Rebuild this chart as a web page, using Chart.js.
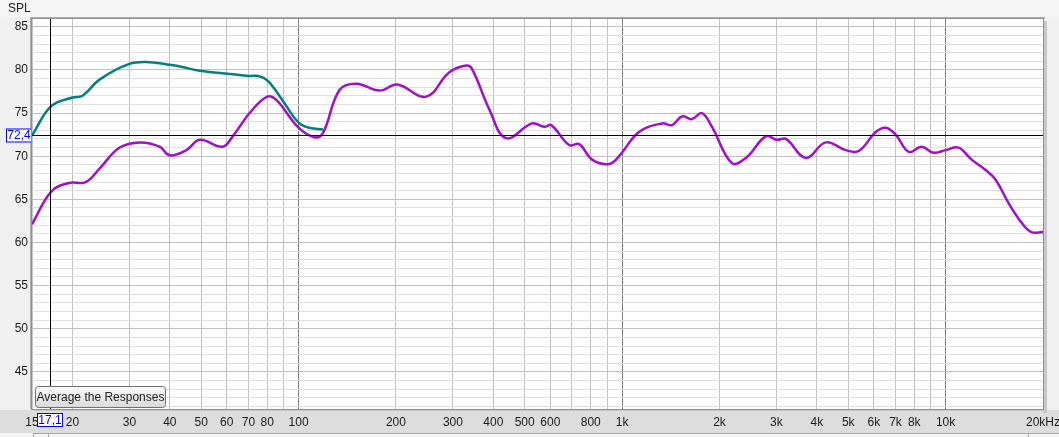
<!DOCTYPE html>
<html lang="en">
<head>
  <meta charset="UTF-8">
  <title>SPL</title>
  <script src="https://cdn.jsdelivr.net/npm/chart.js"></script>
  <style>
    html, body { margin: 0; padding: 0; background: #f0f0f0; }
    canvas { display: block; }
  </style>
</head>
<body>
  <canvas id="spl" width="1059" height="437"></canvas>

  <script>
    // frequency (Hz) / SPL (dB)
    const tealFreq = [15, 17.2, 20, 21.5, 24.3, 30, 34.7, 40, 43, 49.5, 62.6, 70, 75, 80, 85, 91, 100, 108, 119];
    const tealSpl  = [72.4, 75.8, 76.8, 77.0, 78.9, 80.7, 80.9, 80.6, 80.4, 79.9, 79.5, 79.3, 79.3, 78.8, 77.6, 76.0, 73.9, 73.3, 73.1];

    const purpleFreq = [15, 17.2, 19.5, 22, 24.3, 28, 32.3, 37.2, 40, 45, 49.5, 58.2, 62.6, 70.6, 80, 85.5,
      100, 112, 119, 134, 151, 178, 202, 248, 292, 330, 344, 389, 438, 527, 575, 604, 686, 737, 808, 912, 979,
      1128, 1329, 1426, 1531, 1644, 1766, 1896, 2185, 2415, 2780, 3010, 3210, 3700, 4260, 4910, 5390, 6080,
      6530, 7010, 7690, 8430, 9180, 10000, 10970, 12030, 13290, 14260, 15640, 17170, 18420, 20000];
    const purpleSpl = [62.1, 65.9, 66.9, 67.0, 68.6, 71.0, 71.6, 71.1, 70.1, 70.7, 71.9, 71.1, 72.3, 75.0, 76.9, 76.5,
      73.3, 72.2, 72.7, 77.7, 78.4, 77.6, 78.3, 76.9, 79.7, 80.5, 80.1, 75.4, 72.1, 73.8, 73.4, 73.6, 71.3, 71.4, 69.6, 69.1, 70.0,
      72.8, 73.8, 73.6, 74.6, 74.3, 75.0, 73.4, 69.2, 69.8, 72.3, 71.9, 72.0, 69.8, 71.6, 70.7, 70.6, 72.8,
      73.3, 72.5, 70.5, 71.1, 70.4, 70.7, 71.0, 69.6, 68.4, 67.3, 64.6, 62.3, 61.2, 61.2];

    // axis ticks
    const xGridFreqs = [15, 20, 30, 40, 50, 60, 70, 80, 90, 100, 200, 300, 400, 500, 600, 700, 800, 900,
      1000, 2000, 3000, 4000, 5000, 6000, 7000, 8000, 9000, 10000, 20000];
    const xTickLabels = {15: '15', 20: '20', 30: '30', 40: '40', 50: '50', 60: '60', 70: '70', 80: '80',
      100: '100', 200: '200', 300: '300', 400: '400', 500: '500', 600: '600', 800: '800',
      1000: '1k', 2000: '2k', 3000: '3k', 4000: '4k', 5000: '5k', 6000: '6k', 7000: '7k', 8000: '8k',
      10000: '10k', 20000: '20kHz'};
    const yTickLabels = [45, 50, 55, 60, 65, 70, 75, 80, 85];

    // cursor position
    const cursorFreq = 17.1;
    const cursorSpl = 72.4;

    const font = 'Liberation Sans, Arial, sans-serif';

    function toPoints(xs, ys) {
      return xs.map((x, i) => ({ x: x, y: ys[i] }));
    }

    // window chrome behind the plot
    const backdrop = {
      id: 'backdrop',
      beforeDraw(chart) {
        const c = chart.ctx;
        const a = chart.chartArea;
        c.save();
        c.fillStyle = '#f0f0f0';
        c.fillRect(0, 0, chart.width, chart.height);
        c.fillStyle = '#f6f6f6';
        c.fillRect(0, 0, chart.width, a.top - 2);
        // x label strip
        c.fillStyle = '#dddddd';
        c.fillRect(0, a.bottom + 1, chart.width, 23);
        c.fillStyle = '#f4f4f4';
        c.fillRect(0, a.bottom + 24, chart.width, chart.height - a.bottom - 24);
        c.strokeStyle = '#a8a8a8';
        c.lineWidth = 1;
        c.beginPath();
        c.moveTo(33, a.bottom + 24.5); c.lineTo(chart.width, a.bottom + 24.5);
        c.moveTo(33.5, a.bottom + 24); c.lineTo(33.5, chart.height);
        c.moveTo(48.5, a.bottom + 24); c.lineTo(48.5, chart.height);
        c.moveTo(1028.5, a.bottom + 24); c.lineTo(1028.5, chart.height);
        c.stroke();
        // plot shadow
        c.fillStyle = '#c8c8c8';
        c.fillRect(a.right, a.top + 2, 4, a.bottom - a.top + 2);
        c.fillRect(a.left + 2, a.bottom, a.right - a.left + 2, 2);
        c.fillStyle = '#b0b0b0';
        c.fillRect(a.left - 2, a.top - 2, a.right - a.left + 4, 2);
        c.fillRect(a.left - 2, a.top - 2, 2, a.bottom - a.top + 2);
        c.fillStyle = '#ffffff';
        c.fillRect(a.left, a.top, a.right - a.left, a.bottom - a.top);
        c.restore();
      }
    };

    // cursor lines, value boxes, button and axis title
    const overlay = {
      id: 'overlay',
      afterDraw(chart) {
        const c = chart.ctx;
        const a = chart.chartArea;
        const xs = chart.scales.x;
        const ys = chart.scales.y;
        const cx = Math.round(xs.getPixelForValue(cursorFreq)) + 0.5;
        const cy = Math.round(ys.getPixelForValue(cursorSpl)) + 0.5;
        c.save();
        c.strokeStyle = '#000000';
        c.lineWidth = 1;
        c.beginPath();
        c.moveTo(cx, a.top); c.lineTo(cx, a.bottom);
        c.moveTo(a.left, cy); c.lineTo(a.right, cy);
        c.stroke();

        c.font = '12px ' + font;
        c.textBaseline = 'middle';
        c.textAlign = 'center';
        // y cursor box
        c.fillStyle = '#ffffff';
        c.fillRect(6.5, cy - 6.5, 25, 13);
        c.strokeStyle = '#0000ff';
        c.strokeRect(6.5, cy - 6.5, 25, 13);
        c.fillStyle = '#0000ff';
        c.fillText(String(cursorSpl).replace('.', ','), 19, cy + 0.5);
        // x cursor box
        c.fillStyle = '#ffffff';
        c.fillRect(cx - 13, 413.5, 25, 13);
        c.strokeRect(cx - 13, 413.5, 25, 13);
        c.fillStyle = '#0000ff';
        c.fillText(String(cursorFreq).replace('.', ','), cx - 0.5, 420.5);

        // button
        const bx = 35.5, by = 386.5, bw = 130, bh = 21;
        const g = c.createLinearGradient(0, by, 0, by + bh);
        g.addColorStop(0, '#fafafa');
        g.addColorStop(1, '#dadada');
        c.beginPath();
        c.roundRect(bx, by, bw, bh, 3);
        c.fillStyle = g;
        c.fill();
        c.strokeStyle = '#707070';
        c.stroke();
        c.fillStyle = '#202020';
        c.fillText('Average the Responses', bx + bw / 2, by + bh / 2 + 1);

        // axis title
        c.textAlign = 'left';
        c.fillText('SPL', 8, 9);

        // plot frame
        c.strokeStyle = '#909090';
        c.strokeRect(a.left - 0.5, a.top - 0.5, a.right - a.left + 1, a.bottom - a.top + 1);
        c.restore();
      }
    };

    const chart = new Chart(document.getElementById('spl'), {
      type: 'line',
      data: {
        datasets: [
          {
            label: 'Response 1',
            data: toPoints(tealFreq, tealSpl),
            borderColor: '#008080',
            borderWidth: 2.5,
            pointRadius: 0,
            tension: 0.4,
            fill: false
          },
          {
            label: 'Response 2',
            data: toPoints(purpleFreq, purpleSpl),
            borderColor: '#a010c8',
            borderWidth: 2.5,
            pointRadius: 0,
            tension: 0.4,
            fill: false
          }
        ]
      },
      options: {
        responsive: false,
        animation: false,
        devicePixelRatio: 1,
        layout: { padding: { top: 19, right: 16, left: 0, bottom: 0 } },
        plugins: { legend: { display: false }, tooltip: { enabled: false } },
        scales: {
          x: {
            type: 'logarithmic',
            min: 15,
            max: 20000,
            afterBuildTicks: (scale) => { scale.ticks = xGridFreqs.map(v => ({ value: v })); },
            afterFit: (scale) => {
              scale.height = 28;
              scale.paddingLeft = 0;
              scale.paddingRight = 0;
            },
            border: { display: false },
            grid: {
              drawTicks: false,
              color: (ctx) => {
                const v = ctx.tick && ctx.tick.value;
                if (v === 100 || v === 1000 || v === 10000) return '#808080';
                return '#c0c0c0';
              }
            },
            ticks: {
              autoSkip: false,
              maxRotation: 0,
              padding: 6,
              color: '#1a1a1a',
              font: { family: font, size: 12 },
              callback: (value) => xTickLabels[value] || ''
            }
          },
          y: {
            type: 'linear',
            min: 40.7,
            max: 85.9,
            afterFit: (scale) => {
              scale.width = 32;
              scale.paddingTop = 0;
              scale.paddingBottom = 0;
            },
            border: { display: false },
            grid: {
              drawTicks: false,
              color: (ctx) => {
                const v = ctx.tick && ctx.tick.value;
                return yTickLabels.includes(v) ? '#c0c0c0' : '#e0e0e0';
              }
            },
            ticks: {
              stepSize: 1,
              includeBounds: false,
              autoSkip: false,
              padding: 4,
              color: '#1a1a1a',
              font: { family: font, size: 12 },
              callback: (value) => yTickLabels.includes(value) ? String(value) : ''
            }
          }
        }
      },
      plugins: [backdrop, overlay]
    });
  </script>
</body>
</html>
